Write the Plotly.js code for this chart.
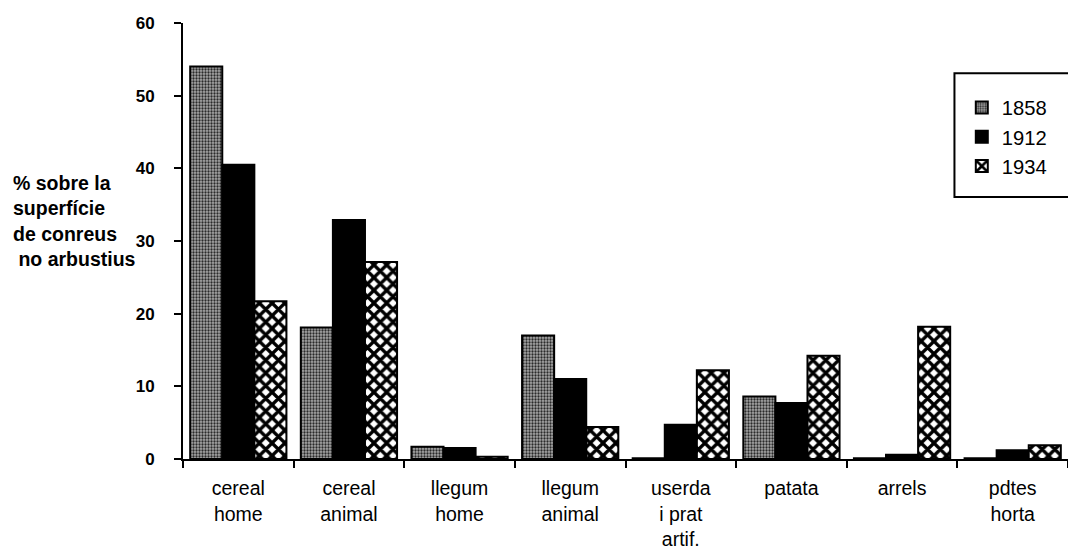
<!DOCTYPE html>
<html>
<head>
<meta charset="utf-8">
<script src="https://cdn.plot.ly/plotly-3.0.1.min.js"></script>
<style>
  html, body { margin: 0; padding: 0; background: #fff; }
  #chart { width: 1068px; height: 554px; }
</style>
</head>
<body>
<div id="chart"></div>
<script>
const categories = ["cereal<br>home", "cereal<br>animal", "llegum<br>home", "llegum<br>animal",
                    "userda<br>i prat<br>artif.", "patata", "arrels", "pdtes<br>horta"];
const seriesNames = ["1858", "1912", "1934"];
const v1858 = [54.0, 18.1, 1.7, 17.0, 0.1, 8.6, 0.1, 0.1];
const v1912 = [40.5, 32.9, 1.5, 11.0, 4.7, 7.7, 0.6, 1.2];
const v1934 = [21.7, 27.1, 0.3, 4.4, 12.2, 14.2, 18.2, 1.9];
const yTicks = [0, 10, 20, 30, 40, 50, 60];
const yTitle = "% sobre la<br>superfície<br>de conreus<br> no arbustius";

const FONT = "Liberation Sans, Arial, Helvetica, sans-serif";

const lineStyle = {color: "black", width: 2};

const traces = [
  {
    type: "bar", name: seriesNames[0], x: categories, y: v1858, legendgroup: "a",
    marker: {
      color: "#a0a0a0", line: lineStyle,
      pattern: {shape: ".", bgcolor: "#a8a8a8", fgcolor: "#2a2a2a", size: 3, solidity: 0.45, fillmode: "replace"}
    }
  },
  {
    type: "bar", name: seriesNames[1], x: categories, y: v1912, legendgroup: "b",
    marker: {color: "black", line: lineStyle}
  },
  {
    type: "bar", name: seriesNames[2], x: categories, y: v1934, legendgroup: "c",
    marker: {
      color: "white", line: lineStyle,
      pattern: {shape: "x", bgcolor: "white", fgcolor: "black", size: 9, solidity: 0.6, fillmode: "replace"}
    }
  }
];

const layout = {
  width: 1068, height: 554,
  margin: {l: 183, r: 0, t: 23, b: 95, autoexpand: false},
  paper_bgcolor: "white", plot_bgcolor: "white",
  barmode: "group", bargap: 0.13, bargroupgap: 0,
  showlegend: true,
  legend: {
    x: 0.880, y: 0.851, xanchor: "left", yanchor: "top",
    bgcolor: "rgba(0,0,0,0)", borderwidth: 0,
    font: {family: FONT, size: 20.2, color: "black"},
    tracegroupgap: 0, itemwidth: 30
  },
  shapes: [
    {
      type: "rect", xref: "paper", yref: "paper",
      x0: 0.8717, x1: 1.03, y0: 0.601, y1: 0.885,
      line: {color: "black", width: 2}, fillcolor: "white", layer: "above"
    }
  ],
  xaxis: {
    type: "category", showgrid: false, zeroline: false,
    showline: true, linecolor: "black", linewidth: 2,
    ticks: "outside", tickson: "boundaries", ticklen: 7, tickwidth: 2, tickcolor: "black",
    tickfont: {family: FONT, size: 19.5, color: "black"},
    ticklabelstandoff: 11,
    fixedrange: true
  },
  xaxis2: {
    overlaying: "x", anchor: "y", side: "bottom", range: [-0.5, 7.5],
    tickmode: "array", tickvals: [-0.5, 0.5, 1.5, 2.5, 3.5, 4.5, 5.5, 6.5, 7.5],
    ticks: "inside", ticklen: 6, tickwidth: 2, tickcolor: "black",
    showticklabels: false, showgrid: false, zeroline: false, showline: false
  },
  yaxis: {
    range: [0, 60], tickmode: "array", tickvals: yTicks,
    showgrid: false, zeroline: false,
    showline: true, linecolor: "black", linewidth: 2,
    ticks: "outside", ticklen: 7, tickwidth: 2, tickcolor: "black",
    tickfont: {family: FONT, size: 17, color: "black", weight: "bold"},
    ticklabelstandoff: 16,
    fixedrange: true
  },
  yaxis2: {
    overlaying: "y", anchor: "x", side: "left", range: [0, 60],
    tickmode: "array", tickvals: yTicks,
    ticks: "inside", ticklen: 5, tickwidth: 2, tickcolor: "black",
    showticklabels: false, showgrid: false, zeroline: false, showline: false
  },
  annotations: [
    {
      text: yTitle, xref: "paper", yref: "paper",
      x: -0.194, y: 0.546, xanchor: "left", yanchor: "middle", align: "left",
      showarrow: false,
      font: {family: FONT, size: 19.5, color: "black", weight: "bold"}
    }
  ]
};

Plotly.newPlot("chart", traces, layout, {displayModeBar: false, staticPlot: true});
</script>
</body>
</html>
